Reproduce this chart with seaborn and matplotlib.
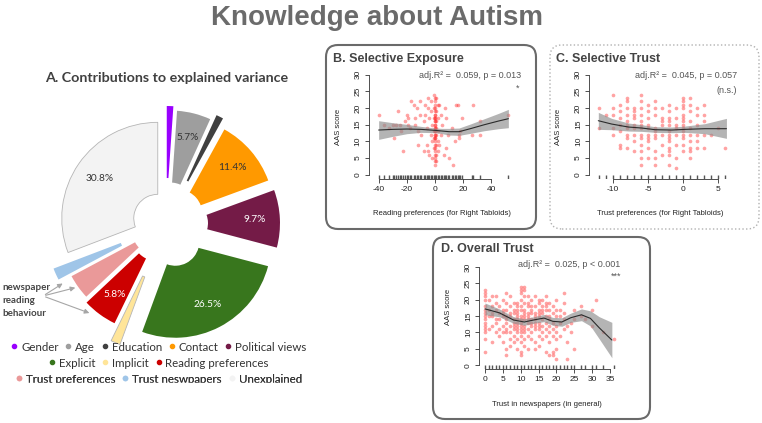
import numpy as np
import matplotlib.pyplot as plt
import seaborn as sns
from matplotlib.patches import FancyBboxPatch, Rectangle
from matplotlib.lines import Line2D

sns.set_style("ticks")
plt.rcParams['font.family'] = ['Liberation Sans', 'DejaVu Sans']
plt.rcParams['axes.unicode_minus'] = False

W, H = 762, 423

# ---- A. contributions to explained variance ----
factors = ["Gender", "Age", "Education", "Contact", "Political views", "Explicit", "Implicit",
           "Reading preferences", "Trust preferences", "Trust neswpapers", "Unexplained"]
shares = [1.1, 5.7, 1.2, 11.4, 9.7, 26.5, 1.6, 5.8, 4.2, 2.0, 30.8]
colors = ["#9900ff", "#9e9e9e", "#404040", "#ff9900", "#741b47", "#38761d", "#ffe599",
          "#cc0000", "#ea9999", "#9fc5e8", "#f3f3f3"]
explode = [22, 18, 24, 16, 18, 20, 33, 16, 12, 25, 10]
pct_colors = {"5.7%": "#333333", "11.4%": "#333333", "30.8%": "#333333",
              "9.7%": "white", "26.5%": "white", "5.8%": "white"}

# ---- B. selective exposure ----
b_x = [-40, -33, -29, -26, -25, -24, -21, -20, -19, -19, -18, -17, -15, -14, -14, -13, -12, -12,
       -11, -11, -10, -8, -8, -7, -7, -6, -6, -5, -5, -5, -4, -4, -3, -3, -3, -2, -2, -2,
       -1, -1, -1, -1, -1, -1,
       0, 0, 0, 0, 0, 0, 0, 0, 0, 0, 0, 0, 0, 0, 0, 0, 0, 0, 0, 0, 0,
       0, 0, 0, 0, 0, 0, 0, 0,
       1, 1, 1, 1, 1, 1, 1, 1, 2, 2, 2, 2, 2, 3, 3, 4, 4, 5, 6, 7, 8, 8, 9, 10,
       12, 13, 14, 15, 16, 17, 17, 18, 19, 26, 27, 32, 32, 52, -36, -30, -28, -23]
b_y = [18, 14, 11, 19, 15, 13, 16, 18, 17, 15, 14, 22, 21, 17, 15, 20, 13, 9,
       22, 18, 12, 16, 7, 21, 18, 14, 9, 23, 20, 7, 17, 6, 22, 12, 19, 15, 10, 5,
       24, 20, 17, 13, 11, 8,
       3, 4, 5, 6, 7, 8, 9, 10, 11, 12, 13, 14, 15, 16, 17, 18, 19, 20, 21, 22, 23,
       12, 13, 14, 15, 16, 17, 18, 11,
       23, 19, 16, 14, 12, 9, 6, 4, 21, 17, 13, 10, 7, 21, 9, 18, 12, 15, 6, 20, 17, 8, 12, 5,
       14, 3, 10, 21, 21, 12, 11, 13, 17, 12, 21, 16, 12, 18, 15, 15, 15, 7]
b_fit_x = [-40, -30, -20, -10, 0, 5, 10, 17, 25, 35, 45, 52]
b_fit = [13.4, 13.6, 13.7, 13.6, 13.3, 13.1, 12.9, 12.9, 13.8, 15.0, 16.1, 16.8]
b_lo = [10.6, 11.5, 12.3, 12.7, 12.6, 12.3, 11.9, 11.8, 12.4, 13.2, 13.8, 14.1]
b_hi = [16.2, 15.6, 15.1, 14.5, 14.0, 13.9, 13.9, 14.0, 15.2, 16.8, 18.4, 19.6]

# ---- C. selective trust ----
c_cols = [-12, -11, -10, -9, -8, -7, -6, -5, -4, -3, -2, -1, 0, 1, 2, 3, 4, 5, 6]
c_vals = [[20, 14], [18], [24, 20, 18, 14, 12], [21, 19, 17, 15, 13, 9, 8],
          [23, 22, 20, 18, 16, 15, 14, 12, 11, 8], [20, 19, 18, 17, 15, 14, 12, 10, 7],
          [24, 22, 20, 18, 16, 15, 14, 12, 11, 9, 7, 5, 3], [21, 19, 17, 15, 14, 12, 11, 10, 8, 5],
          [22, 20, 18, 14, 13, 12, 11, 7, 5, 3], [20, 17, 16, 15, 12, 9, 6],
          [21, 19, 17, 16, 15, 13, 12, 11, 10, 8, 7, 6, 3], [20, 17, 15, 14, 12, 9, 5, 2],
          [23, 22, 21, 20, 18, 17, 16, 15, 14, 13, 12, 11, 9, 7],
          [23, 21, 19, 16, 14, 12, 10, 8, 7, 5], [20, 18, 15, 12, 10, 8], [21, 18, 16, 12, 8],
          [12], [14], [8]]
c_fit_x = [-12.1, -10.2, -7.8, -5.9, -4, -1.6, 0.3, 3.1, 6.2]
c_fit = [16.2, 15.2, 14.3, 14.0, 13.5, 13.4, 13.6, 13.8, 13.8]
c_lo = [13.6, 13.5, 13.1, 13.0, 12.7, 12.6, 12.7, 12.3, 10.9]
c_hi = [18.7, 16.9, 15.5, 15.0, 14.4, 14.3, 14.6, 15.3, 16.9]

# ---- D. overall trust ----
d_cols = list(range(0, 26)) + [27, 28, 30, 31, 33, 36]
d_vals = [[23, 22, 21, 20, 18, 17, 16, 15, 14, 13, 12, 11, 10, 8, 4], [20, 17, 15, 11],
          [21, 18, 16, 15, 12, 7], [21, 19, 17, 14, 13, 10], [18, 16, 14, 11, 9],
          [20, 17, 16, 15, 12, 10, 7], [22, 19, 17, 15, 14, 13, 11, 10, 5, 3],
          [21, 18, 16, 15, 12, 10, 8, 6], [19, 17, 16, 14, 13, 12, 11, 9, 7],
          [19, 18, 17, 16, 15, 14, 13, 12, 11, 10, 8, 5],
          [24, 23, 22, 20, 18, 17, 15, 14, 13, 12, 11, 10, 9, 7, 4, 3],
          [24, 23, 21, 19, 17, 16, 15, 14, 12, 11, 10, 8, 6], [21, 19, 18, 16, 15, 14, 13, 11, 9, 5],
          [20, 18, 17, 16, 14, 13, 12, 10, 8], [21, 18, 16, 15, 14, 13, 12, 11, 7, 5],
          [20, 19, 17, 16, 15, 13, 12, 11, 9, 6], [20, 18, 17, 16, 14, 12, 10, 8],
          [21, 19, 18, 17, 15, 13, 11, 9, 4], [19, 17, 15, 14, 12, 10, 7, 3],
          [18, 16, 13, 11, 9, 4, 3], [20, 17, 15, 12, 10, 8, 5, 2], [17, 15, 13, 9],
          [22, 19, 16, 14, 11], [12, 7, 2], [13, 10], [17, 14, 5], [18, 15], [14], [17, 12],
          [20], [10], [8]]
d_fit_x = [0, 4, 8, 11, 14, 16.5, 19, 21.5, 24, 27, 29.5, 32, 35.5]
d_fit = [17.2, 16.0, 13.8, 13.2, 13.9, 14.4, 13.4, 13.2, 14.5, 15.4, 14.3, 11.4, 7.7]
d_lo = [15.4, 14.8, 12.8, 12.2, 12.9, 13.3, 12.2, 11.9, 13.1, 13.6, 12.0, 8.0, 2.3]
d_hi = [19.0, 17.2, 14.8, 14.2, 14.9, 15.5, 14.6, 14.5, 15.9, 17.2, 16.6, 14.8, 13.1]


def Y(y):
    return H - y


def expand(cols, vals):
    xs = [c for c, v in zip(cols, vals) for _ in v]
    ys = [y for v in vals for y in v]
    return xs, ys


fig = plt.figure(figsize=(W / 100, H / 100), dpi=100)
ax0 = fig.add_axes([0, 0, 1, 1])
ax0.set_facecolor('none')

# main title
ax0.text(377, Y(18), "Knowledge about Autism", ha='center', va='center', fontsize=20,
         fontweight='bold', color='#6b6b6b')

# pie (donut, exploded)
ax0.text(167, Y(78), "A. Contributions to explained variance", ha='center', va='center',
         fontsize=10.3, fontweight='bold', color='#404040', family='Lato')
wedges, _, autotexts = ax0.pie(
    shares, colors=colors, explode=explode, startangle=90, counterclock=False, radius=96,
    center=(166, Y(224)), wedgeprops=dict(width=72, linewidth=0), frame=True,
    autopct=lambda p: f"{p:.1f}%" if p > 5 else "", pctdistance=0.74,
    textprops=dict(fontsize=7.3, family='Lato'))
for w, c in zip(wedges, colors):
    if c in ("#f3f3f3", "#ffe599"):
        w.set_edgecolor('#b5b5b5')
        w.set_linewidth(0.6)
for t in autotexts:
    t.set_color(pct_colors.get(t.get_text(), '#333333'))

# legend rows
rows = [factors[0:5], factors[5:8], factors[8:11]]
row_y = [347, 363, 379]
for names, ry in zip(rows, row_y):
    handles = [Line2D([], [], ls='', marker='o', markersize=3.0, color=colors[factors.index(n)])
               for n in names]
    leg = ax0.legend(handles, names, ncol=len(names), loc='center', bbox_to_anchor=(159, Y(ry)),
                     bbox_transform=ax0.transData, frameon=False,
                     prop=dict(family='Lato', size=8.3), handlelength=0.5, handletextpad=0.35,
                     columnspacing=0.6, borderpad=0, borderaxespad=0)
    for txt in leg.get_texts():
        txt.set_color('#333333')
    ax0.add_artist(leg)
# the legend is cut at the bottom in the source
ax0.add_patch(Rectangle((0, 0), 325, Y(383), color='white', zorder=10))

# newspaper reading behaviour annotation
for i, word in enumerate(["newspaper", "reading", "behaviour"]):
    ax0.text(2, Y(287 + 13 * i), word, ha='left', va='center', fontsize=7, fontweight='bold',
             color='#444444', family='Lato')
for tx, ty in [(65, 282), (78, 287), (92, 314)]:
    ax0.annotate("", xy=(tx, Y(ty)), xytext=(43, Y(296)),
                 arrowprops=dict(arrowstyle='-|>', color='#a6a6a6', lw=0.8, mutation_scale=7))

# panel frames
ax0.add_patch(FancyBboxPatch((326, Y(229)), 210, 184, boxstyle="round,pad=0,rounding_size=12",
                             fc='none', ec='#6a6a6a', lw=1.5))
ax0.add_patch(FancyBboxPatch((550, Y(229)), 209, 184, boxstyle="round,pad=0,rounding_size=12",
                             fc='none', ec='#b0b0b0', lw=1, ls=':'))
ax0.add_patch(FancyBboxPatch((433, Y(419)), 217, 182, boxstyle="round,pad=0,rounding_size=12",
                             fc='none', ec='#6a6a6a', lw=1.5))
ax0.text(333, Y(59), "B. Selective Exposure", fontsize=9, fontweight='bold', color='#444444',
         va='center')
ax0.text(556, Y(59), "C. Selective Trust", fontsize=9, fontweight='bold', color='#444444',
         va='center')
ax0.text(441, Y(249), "D. Overall Trust", fontsize=9, fontweight='bold', color='#444444',
         va='center')

# stats text
ax0.text(521, Y(75), "adj.R\u00b2 =  0.059, p = 0.013", ha='right', va='center', fontsize=6.5,
         color='#555555')
ax0.text(519, Y(88), "*", ha='right', va='center', fontsize=6.5, color='#555555')
ax0.text(737, Y(75), "adj.R\u00b2 =  0.045, p = 0.057", ha='right', va='center', fontsize=6.5,
         color='#555555')
ax0.text(737, Y(90), "(n.s.)", ha='right', va='center', fontsize=6.5, color='#555555')
ax0.text(620, Y(264), "adj.R\u00b2 =  0.025, p < 0.001", ha='right', va='center', fontsize=6.5,
         color='#555555')
ax0.text(621, Y(276), "***", ha='right', va='center', fontsize=6.5, color='#555555')

# axis labels
for x, y in [(339, 127), (559, 127), (449, 307)]:
    ax0.text(x, Y(y), "AAS score", rotation=90, ha='center', va='center', fontsize=5.5,
             color='#222222')
ax0.text(442, Y(213), "Reading preferences (for Right Tabloids)", ha='center', va='center',
         fontsize=5.5, color='#222222')
ax0.text(660, Y(213), "Trust preferences (for Right Tabloids)", ha='center', va='center',
         fontsize=5.5, color='#222222')
ax0.text(547, Y(404), "Trust in newspapers (in general)", ha='center', va='center',
         fontsize=5.5, color='#222222')

ax0.set_xlim(0, W)
ax0.set_ylim(0, H)
ax0.set_aspect('auto')
ax0.axis('off')


def px_axes(left, top, right, bottom):
    return fig.add_axes([left / W, 1 - bottom / H, (right - left) / W, (bottom - top) / H])


def draw_panel(ax, xs, ys, fx, fy, lo, hi, xticks, xlim, ylim):
    ax.set_facecolor('none')
    sns.scatterplot(x=xs, y=ys, ax=ax, color='#ff1a1a', alpha=0.4, s=7, linewidth=0, zorder=2)
    ax.fill_between(fx, lo, hi, color='#8c8c8c', alpha=0.65, lw=0, zorder=3)
    sns.lineplot(x=fx, y=fy, ax=ax, color='#2b2b2b', lw=0.8, zorder=4)
    sns.rugplot(x=sorted(set(xs)), ax=ax, height=0.035, color='#555555', lw=0.4)
    ax.set_xlim(*xlim)
    ax.set_ylim(*ylim)
    ax.set_xticks(xticks)
    ax.set_yticks([0, 5, 10, 15, 20, 25, 30])
    for lbl in ax.get_yticklabels():
        lbl.set_rotation(90)
        lbl.set_va('center')
    ax.tick_params(direction='out', length=3, width=0.6, labelsize=6, pad=2,
                   colors='#333333', labelcolor='#222222')
    for s in ('top', 'right'):
        ax.spines[s].set_visible(False)
    for s in ('left', 'bottom'):
        ax.spines[s].set_linewidth(0.6)
        ax.spines[s].set_color('#333333')
    ax.spines['left'].set_bounds(0, 30)
    ax.spines['bottom'].set_bounds(xticks[0], xticks[-1])
    ax.set_xlabel("")
    ax.set_ylabel("")


axB = px_axes(368.5, 70.7, 514, 178.7)
draw_panel(axB, b_x, b_y, b_fit_x, b_fit, b_lo, b_hi, [-40, -20, 0, 20, 40], (-47.2, 56), (-1.2, 31.2))

c_x, c_y = expand(c_cols, c_vals)
axC = px_axes(589, 70.7, 730, 178.7)
draw_panel(axC, c_x, c_y, c_fit_x, c_fit, c_lo, c_hi, [-10, -5, 0, 5], (-13.43, 6.71), (-1.2, 31.2))

d_x, d_y = expand(d_cols, d_vals)
axD = px_axes(479, 263, 619, 369.2)
draw_panel(axD, d_x, d_y, d_fit_x, d_fit, d_lo, d_hi, [0, 5, 10, 15, 20, 25, 30, 35], (-1.68, 37.5), (-1.2, 31.2))

fig.savefig("out.png", dpi=100)
